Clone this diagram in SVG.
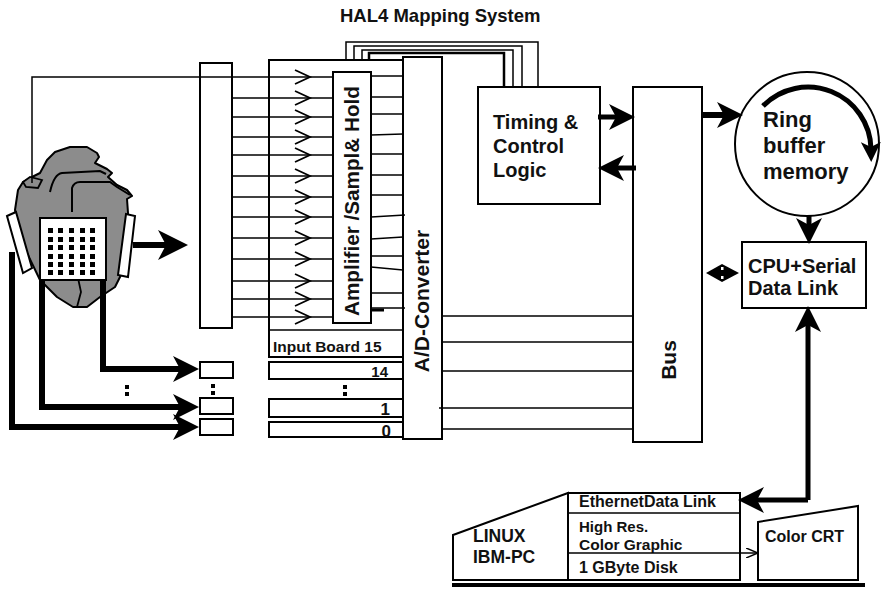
<svg xmlns="http://www.w3.org/2000/svg" width="883" height="589" viewBox="0 0 883 589">
  <style>
    .box { fill: #fff; stroke: #000; stroke-width: 2; }
    .wire { fill: none; stroke: #000; stroke-width: 1.5; }
    .heavy { fill: none; stroke: #000; stroke-width: 6; }
    .mid { fill: none; stroke: #000; stroke-width: 5; }
    .t { font-family: "Liberation Sans", Arial, sans-serif; font-weight: bold; fill: #111; }
    .dot { fill: #000; }
  </style>
  <defs>
    <marker id="ah" viewBox="0 0 30 30" markerWidth="30" markerHeight="30" refX="10" refY="15" markerUnits="userSpaceOnUse" orient="auto">
      <path d="M0,0 L30,15 L0,30 L8,15 z" fill="#000"/>
    </marker>
    <marker id="am" viewBox="0 0 26 26" markerWidth="26" markerHeight="26" refX="8" refY="13" markerUnits="userSpaceOnUse" orient="auto">
      <path d="M0,0 L26,13 L0,26 L7,13 z" fill="#000"/>
    </marker>
    <marker id="as" viewBox="0 0 20 20" markerWidth="20" markerHeight="20" refX="7" refY="10" markerUnits="userSpaceOnUse" orient="auto">
      <path d="M0,0 L20,10 L0,20 L5,10 z" fill="#000"/>
    </marker>
    <marker id="thin" viewBox="0 0 12 10" markerWidth="12" markerHeight="10" refX="12" refY="5" markerUnits="userSpaceOnUse" orient="auto">
      <path d="M0,0 L12,5 L0,10" fill="none" stroke="#000" stroke-width="1.5"/>
    </marker>
    <path id="amp" d="M-8,-7 L7,0 L-8,7" fill="none" stroke="#000" stroke-width="1.8"/>
  </defs>

  <text class="t" x="340" y="22" font-size="18.5">HAL4 Mapping System</text>

  <!-- heart with electrode array -->
  <g id="heart">
    <path d="M15,210 L18,190 L23,182 L32,177 L40,173 L47,160 L55,152 L70,147 L87,147 L97,153 L99,157 L95,163 L107,169 L112,173 L108,177 L117,185 L127,190 L132,196 L127,199 L128,213 L127,250 L122,273 L115,287 L100,297 L87,307 L73,307 L57,297 L40,280 L27,253 L18,227 Z" fill="#8c8c8c" stroke="#000" stroke-width="2" stroke-linejoin="round"/>
    <path d="M50,192 Q54,174 62,173 L100,171 L106,174" fill="none" stroke="#000" stroke-width="2"/>
    <path d="M72,212 L72,188 Q74,182 80,182 L110,182 L117,187 L130,195" fill="none" stroke="#000" stroke-width="2"/>
    <path d="M23,182 L30,177 L42,180 L38,188 L26,187 Z" fill="#8c8c8c" stroke="#000" stroke-width="1.8"/>
    <path d="M78,278 L81,292 L77,307" fill="none" stroke="#000" stroke-width="1.8"/>
    <polygon points="7,216 16,212 32,268 23,273" fill="#fff" stroke="#000" stroke-width="2"/>
    <polygon points="126,214 135,216 128,277 118,275" fill="#fff" stroke="#000" stroke-width="2"/>
    <rect x="40" y="218" width="66" height="62" fill="#fff" stroke="#000" stroke-width="2"/>
    <g class="dot">
      <rect x="48" y="228" width="5" height="5"/><rect x="58" y="228" width="5" height="5"/><rect x="69" y="228" width="5" height="5"/><rect x="80" y="228" width="5" height="5"/><rect x="90" y="228" width="5" height="5"/>
      <rect x="48" y="237" width="5" height="5"/><rect x="58" y="237" width="5" height="5"/><rect x="69" y="237" width="5" height="5"/><rect x="80" y="237" width="5" height="5"/><rect x="90" y="237" width="5" height="5"/>
      <rect x="48" y="245" width="5" height="5"/><rect x="58" y="245" width="5" height="5"/><rect x="69" y="245" width="5" height="5"/><rect x="80" y="245" width="5" height="5"/><rect x="90" y="245" width="5" height="5"/>
      <rect x="48" y="254" width="5" height="5"/><rect x="58" y="254" width="5" height="5"/><rect x="69" y="254" width="5" height="5"/><rect x="80" y="254" width="5" height="5"/><rect x="90" y="254" width="5" height="5"/>
      <rect x="48" y="262" width="5" height="5"/><rect x="58" y="262" width="5" height="5"/><rect x="69" y="262" width="5" height="5"/><rect x="80" y="262" width="5" height="5"/><rect x="90" y="262" width="5" height="5"/>
      <rect x="48" y="270" width="5" height="5"/><rect x="58" y="270" width="5" height="5"/><rect x="69" y="270" width="5" height="5"/><rect x="80" y="270" width="5" height="5"/><rect x="90" y="270" width="5" height="5"/>
    </g>
  </g>

  <!-- connector block and small connectors -->
  <g id="connector-block"><rect class="box" x="200" y="63" width="32" height="265"/></g>
  <g id="connector-14"><rect class="box" x="200" y="362" width="33" height="16"/></g>
  <g id="connector-1"><rect class="box" x="200" y="398" width="33" height="16"/></g>
  <g id="connector-0"><rect class="box" x="200" y="419" width="33" height="16"/></g>

  <!-- input boards -->
  <g id="input-board-15">
    <rect class="box" x="269" y="60" width="134" height="297"/>
    <line class="wire" x1="269" y1="330" x2="403" y2="330" stroke-width="2"/>
    <text class="t" x="273" y="352" font-size="15.5">Input Board 15</text>
  </g>
  <g id="input-board-14">
    <rect class="box" x="269" y="362" width="134" height="17"/>
    <text class="t" x="388" y="377" font-size="15" text-anchor="end">14</text>
  </g>
  <g id="input-board-1">
    <rect class="box" x="269" y="399" width="134" height="18"/>
    <text class="t" x="390" y="415" font-size="17" text-anchor="end">1</text>
  </g>
  <g id="input-board-0">
    <rect class="box" x="269" y="422" width="134" height="15"/>
    <text class="t" x="391" y="437" font-size="17" text-anchor="end">0</text>
  </g>
  <g id="amplifier">
    <rect class="box" x="333" y="72" width="38" height="251"/>
    <text class="t" font-size="20" text-anchor="middle" transform="translate(359,201) rotate(-90)" textLength="230" lengthAdjust="spacingAndGlyphs">Amplifier /Sampl&amp; Hold</text>
  </g>
  <g id="ad-converter">
    <rect class="box" x="403" y="57" width="39" height="382"/>
    <text class="t" font-size="21" text-anchor="middle" transform="translate(429,301) rotate(-90)">A/D-Converter</text>
  </g>
  <g id="timing">
    <rect class="box" x="478" y="87" width="122" height="117"/>
    <text class="t" x="493" y="129" font-size="20">Timing &amp;</text>
    <text class="t" x="493" y="153" font-size="20">Control</text>
    <text class="t" x="493" y="177" font-size="20">Logic</text>
  </g>
  <g id="bus">
    <rect class="box" x="633" y="87" width="69" height="355"/>
    <text class="t" font-size="21" text-anchor="middle" transform="translate(676,360) rotate(-90)">Bus</text>
  </g>
  <g id="ring-buffer">
    <circle cx="807" cy="144" r="72" fill="#fff" stroke="#000" stroke-width="2"/>
    <path d="M763,106 A63,63 0 0 1 871,149" class="mid" marker-end="url(#as)"/>
    <text class="t" x="763" y="127" font-size="22">Ring</text>
    <text class="t" x="763" y="153" font-size="22">buffer</text>
    <text class="t" x="763" y="179" font-size="22">memory</text>
  </g>
  <g id="cpu">
    <rect class="box" x="742" y="242" width="124" height="66"/>
    <text class="t" x="748" y="273" font-size="20">CPU+Serial</text>
    <text class="t" x="748" y="295" font-size="20">Data Link</text>
  </g>
  <g id="pc">
    <polygon class="box" points="453,535 568,493 568,580 453,580"/>
    <rect class="box" x="568" y="493" width="172" height="87"/>
    <line class="wire" x1="568" y1="513" x2="740" y2="513" stroke-width="2"/>
    <text class="t" x="473" y="542" font-size="17.5">LINUX</text>
    <text class="t" x="473" y="563" font-size="17.5">IBM-PC</text>
    <text class="t" x="579" y="507" font-size="16">EthernetData Link</text>
    <text class="t" x="579" y="532" font-size="15">High Res.</text>
    <text class="t" x="579" y="550" font-size="15.5">Color Graphic</text>
    <text class="t" x="579" y="573" font-size="16">1 GByte Disk</text>
  </g>
  <g id="crt">
    <polygon class="box" points="758,522 858,506 858,580 758,580"/>
    <text class="t" x="765" y="542" font-size="16">Color CRT</text>
  </g>
  <line x1="452" y1="585" x2="865" y2="585" stroke="#000" stroke-width="4"/>

  <g id="connectors">
    <!-- reference lead from heart -->
    <path class="wire" d="M32,183 V77 H333"/>
    <!-- electrode channels into amplifiers -->
    <g class="wire">
      <line x1="232" y1="98" x2="333" y2="98"/>
      <line x1="232" y1="117" x2="333" y2="117"/>
      <line x1="232" y1="137" x2="333" y2="137"/>
      <line x1="232" y1="155" x2="333" y2="155"/>
      <line x1="232" y1="176" x2="333" y2="176"/>
      <line x1="232" y1="197" x2="333" y2="197"/>
      <line x1="232" y1="217" x2="333" y2="217"/>
      <line x1="232" y1="238" x2="333" y2="238"/>
      <line x1="232" y1="259" x2="333" y2="259"/>
      <line x1="232" y1="281" x2="333" y2="281"/>
      <line x1="232" y1="299" x2="333" y2="299"/>
      <line x1="232" y1="317" x2="333" y2="317"/>
    </g>
    <use href="#amp" x="303" y="77"/><use href="#amp" x="303" y="98"/><use href="#amp" x="303" y="117"/>
    <use href="#amp" x="303" y="137"/><use href="#amp" x="303" y="155"/><use href="#amp" x="303" y="176"/>
    <use href="#amp" x="303" y="197"/><use href="#amp" x="303" y="217"/><use href="#amp" x="303" y="238"/>
    <use href="#amp" x="303" y="259"/><use href="#amp" x="303" y="281"/><use href="#amp" x="303" y="299"/>
    <use href="#amp" x="303" y="317"/>
    <!-- sample/hold outputs into converter -->
    <g class="wire">
      <line x1="371" y1="76" x2="403" y2="76"/>
      <line x1="371" y1="97" x2="403" y2="97"/>
      <line x1="371" y1="114" x2="403" y2="114"/>
      <line x1="371" y1="135" x2="403" y2="134"/>
      <line x1="371" y1="154" x2="403" y2="154"/>
      <line x1="371" y1="175" x2="403" y2="175"/>
      <line x1="371" y1="195" x2="403" y2="195"/>
      <line x1="371" y1="217" x2="405" y2="215"/>
      <line x1="371" y1="239" x2="403" y2="237"/>
      <line x1="371" y1="256" x2="403" y2="256"/>
      <line x1="371" y1="267" x2="403" y2="270"/>
      <line x1="371" y1="293" x2="403" y2="293"/>
      <line x1="371" y1="308" x2="405" y2="308"/>
    </g>
    <line x1="371" y1="310" x2="384" y2="310" stroke="#000" stroke-width="3"/>
    <!-- control wires from timing logic -->
    <path class="wire" d="M346,60 V42 H538 V87"/>
    <path class="wire" d="M354,60 V46 H522 V87"/>
    <path class="wire" d="M362,60 V50 H513 V87"/>
    <path d="M369,60 V53 H504 V87" fill="none" stroke="#000" stroke-width="2.5"/>
    <!-- converter to bus -->
    <g class="wire">
      <line x1="442" y1="316" x2="633" y2="316"/>
      <line x1="442" y1="342" x2="633" y2="342"/>
      <line x1="442" y1="371" x2="633" y2="371"/>
      <line x1="439" y1="408" x2="633" y2="408"/>
      <line x1="442" y1="429" x2="633" y2="429"/>
    </g>
    <!-- electrode arrows -->
    <line class="heavy" x1="133" y1="245" x2="168" y2="245" marker-end="url(#ah)"/>
    <path class="heavy" d="M103,280 V369 H181" marker-end="url(#am)"/>
    <path class="heavy" d="M42,280 V407 H181" marker-end="url(#am)"/>
    <path class="heavy" d="M12,252 V427 H181" marker-end="url(#am)"/>
    <!-- timing and bus -->
    <line class="mid" x1="598" y1="117" x2="617" y2="117" marker-end="url(#am)"/>
    <line class="mid" x1="636" y1="168" x2="616" y2="168" marker-end="url(#am)"/>
    <line class="heavy" x1="702" y1="115" x2="725" y2="115" marker-end="url(#am)"/>
    <!-- ring buffer to cpu -->
    <line class="mid" x1="809" y1="216" x2="809" y2="226" marker-end="url(#am)"/>
    <!-- bus to cpu -->
    <polygon points="706,273 722,264 739,273 722,282" fill="#000"/>
    <rect x="721" y="267" width="2.5" height="3" fill="#fff"/>
    <rect x="721" y="276" width="2.5" height="3" fill="#fff"/>
    <!-- cpu to pc link -->
    <path class="mid" d="M808,500 V324" marker-end="url(#am)"/>
    <path class="mid" d="M808,500 H756" marker-end="url(#am)"/>
    <!-- graphics to crt -->
    <line class="wire" x1="568" y1="553" x2="758" y2="553" marker-end="url(#thin)"/>
    <!-- ellipsis marks -->
    <g class="dot">
      <rect x="125" y="385" width="4" height="4"/><rect x="125" y="392" width="4" height="4"/>
      <rect x="211" y="384" width="4" height="4"/><rect x="211" y="391" width="4" height="4"/>
      <rect x="343" y="385" width="4" height="4"/><rect x="343" y="392" width="4" height="4"/>
    </g>
  </g>
</svg>
